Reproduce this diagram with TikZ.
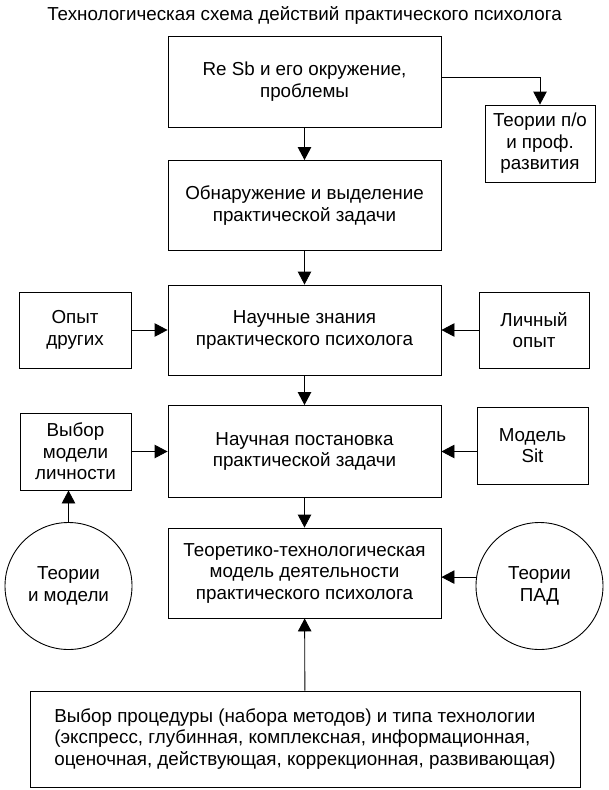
\documentclass[tikz,border=0pt]{standalone}
\usepackage{fontspec}
\setmainfont{Liberation Sans}
\usetikzlibrary{arrows.meta,calc}
\tikzset{
  txt/.style={font=\fontsize{18.8}{21.5}\selectfont},
  box/.style={draw, line width=0.9pt, rectangle, align=center, inner sep=0pt, txt},
  circ/.style={draw, line width=0.9pt, circle, align=center, inner sep=0pt, minimum size=127pt, txt},
  arr/.style={line width=0.9pt, -{Triangle[width=13.5pt,length=13pt]}},
}
\begin{document}
\begin{tikzpicture}[x=1pt,y=-1pt]
\useasboundingbox[fill=white] (0,0) rectangle (608,790);
\node[txt] (title) at (304.5,15) {Технологическая схема действий практического психолога};
\node[box, minimum width=273pt, minimum height=91pt] (b1) at (304.5,81.5) {Re Sb и его окружение,\\проблемы};
\node[box, minimum width=110pt, minimum height=77pt] (tpo) at (540,143.5) {Теории п/о\\и проф.\\развития};
\node[box, minimum width=273pt, minimum height=90pt] (b2) at (304.5,205.5) {Обнаружение и выделение\\практической задачи};
\node[box, minimum width=273pt, minimum height=90pt] (b3) at (304.5,330) {Научные знания\\практического психолога};
\node[box, minimum width=112pt, minimum height=76pt] (opyt) at (75,330) {Опыт\\других};
\node[box, minimum width=110pt, minimum height=76pt] (lich) at (534,330) {Личный\\опыт};
\node[box, minimum width=273pt, minimum height=92pt] (b4) at (304.5,451.5) {Научная постановка\\практической задачи};
\node[box, minimum width=111pt, minimum height=77pt] (vyb) at (75.5,451.5) {Выбор\\модели\\личности};
\node[box, minimum width=111pt, minimum height=77pt] (sit) at (532.5,445.5) {Модель\\Sit};
\node[box, minimum width=273pt, minimum height=90pt] (b5) at (304.5,573) {Теоретико-технологическая\\модель деятельности\\практического психолога};
\node[circ] (cl) at (68.5,586) {Теории\\и модели};
\node[circ] (cr) at (539.5,586) {Теории\\ПАД};
\node[box, minimum width=550pt, minimum height=96pt, align=left] (b6) at (305,739) {Выбор процедуры (набора методов) и типа технологии\\(экспресс, глубинная, комплексная, информационная,\\оценочная, действующая, коррекционная, развивающая)};
\draw[arr] (b1) -- (b2);
\draw[arr] ([yshift=4.5pt]b1.east) -| (tpo.north);
\draw[arr] (b2) -- (b3);
\draw[arr] (opyt) -- (b3);
\draw[arr] (lich) -- (b3);
\draw[arr] (b3) -- (b4);
\draw[arr] (vyb.east |- b4.west) -- (b4.west);
\draw[arr] (sit.west |- b4.east) -- (b4.east);
\draw[arr] (b4) -- (b5);
\draw[arr] (cl.north) -- (cl.north |- vyb.south);
\draw[arr] (cr.172.8) -- (b5.east |- cr.172.8);
\draw[arr] (b6) -- (b5);
\end{tikzpicture}
\end{document}
